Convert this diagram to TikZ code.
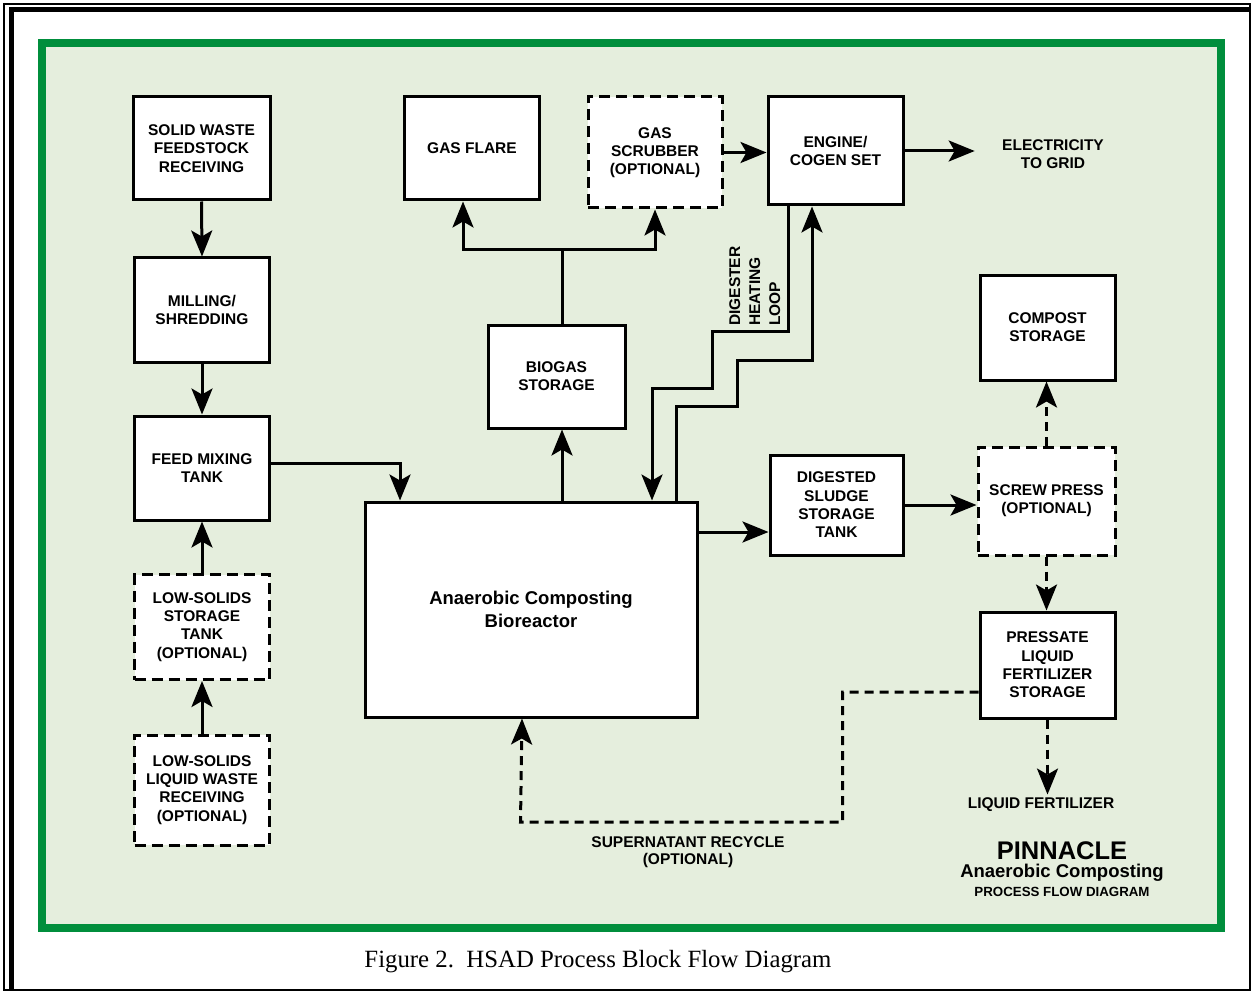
\documentclass[tikz,border=0pt]{standalone}
\usepackage{fontspec}
\setmainfont{Liberation Sans}
\newfontfamily\captionfont{Liberation Serif}
\usepackage{tikz}
\usetikzlibrary{positioning,arrows.meta}
\usepackage{xcolor}

\definecolor{framegreen}{RGB}{0,142,60}
\definecolor{panelgreen}{RGB}{229,238,221}
\newcommand{\boxfont}{\fontsize{15.5}{18.3}\selectfont\bfseries}

\tikzset{
  box/.style={draw, line width=3pt, fill=white, align=center, font=\boxfont},
  optbox/.style={box, dash pattern=on 11pt off 6pt},
  flow/.style={line width=3pt, -{Stealth[length=26pt,width=21pt,inset=6pt]}},
  optflow/.style={flow, dash pattern=on 9pt off 6pt},
  lbl/.style={align=center, font=\boxfont},
}

\begin{document}
\begin{tikzpicture}[x=1pt, y=-1pt]
                \useasboundingbox (0,0) rectangle (1252,992);

                % Page frame and panel
                \draw[line width=2pt] (4,4) rectangle (1250,990);
                \draw[line width=5pt] (11.5,990) -- (11.5,10) -- (1250,10);
                \draw[line width=8pt, framegreen, fill=panelgreen] (42,43) rectangle (1221,928);

                % Feed train
                \node[box, minimum width=137pt, minimum height=103pt] (recv) at (201.5,148.5) {SOLID WASTE\\FEEDSTOCK\\RECEIVING};
                \node[box, minimum width=135pt, minimum height=104pt] (mill) at (202,310) {MILLING/\\SHREDDING};
                \node[box, minimum width=135pt, minimum height=104pt] (mix) at (202,468) {FEED MIXING\\TANK};
                \node[optbox, minimum width=135pt, minimum height=105pt] (lstore) at (202,627) {LOW-SOLIDS\\STORAGE\\TANK\\(OPTIONAL)};
                \node[optbox, minimum width=135pt, minimum height=110pt] (lrecv) at (202,790) {LOW-SOLIDS\\LIQUID WASTE\\RECEIVING\\(OPTIONAL)};

                % Gas train
                \node[box, minimum width=135pt, minimum height=103pt] (flare) at (472,148.5) {GAS FLARE};
                \node[optbox, minimum width=134pt, minimum height=111pt] (scrub) at (655,152.5) {GAS\\SCRUBBER\\(OPTIONAL)};
                \node[box, minimum width=135pt, minimum height=108pt] (engine) at (835.5,151) {ENGINE/\\COGEN SET};
                \node[lbl] (elec) at (1053,154) {ELECTRICITY\\TO GRID};
                \node[box, minimum width=137pt, minimum height=103pt] (biogas) at (556.5,376.5) {BIOGAS\\STORAGE};

                % Digester
                \node[box, minimum width=332pt, minimum height=215pt, font=\fontsize{18.5}{23}\selectfont\bfseries] (reactor) at (531,609.5) {Anaerobic Composting\\Bioreactor};

                % Solids handling
                \node[box, minimum width=133pt, minimum height=100pt] (sludge) at (836.5,505) {DIGESTED\\SLUDGE\\STORAGE\\TANK};
                \node[box, minimum width=135pt, minimum height=105pt] (compost) at (1047.5,327.5) {COMPOST\\STORAGE};
                \node[optbox, minimum width=137pt, minimum height=108pt] (press) at (1046.5,501) {SCREW PRESS\\(OPTIONAL)};
                \node[box, minimum width=135pt, minimum height=106pt] (pressate) at (1047.5,665) {PRESSATE\\LIQUID\\FERTILIZER\\STORAGE};
                \node[lbl] (liqfert) at (1041,805) {LIQUID FERTILIZER};

                % Labels
                \node[lbl, font=\fontsize{15.5}{17}\selectfont\bfseries] (recycle) at (688,852) {SUPERNATANT RECYCLE\\(OPTIONAL)};
                \node[lbl, rotate=90, align=left, anchor=north west, inner sep=0pt, font=\fontsize{15.5}{20}\selectfont\bfseries] (heatlbl) at (729,326) {DIGESTER\\HEATING\\LOOP};
                \node[anchor=base, inner sep=0pt, font=\fontsize{25.5}{28}\selectfont\bfseries] (logo) at (1062,859) {PINNACLE};
                \node[anchor=base, inner sep=0pt, font=\fontsize{18.5}{20}\selectfont\bfseries] (logosub) at (1062,877) {Anaerobic Composting};
                \node[anchor=base, inner sep=0pt, font=\fontsize{13.3}{15}\selectfont\bfseries] (logotag) at (1062,896) {PROCESS FLOW DIAGRAM};
                \node[anchor=base, font=\captionfont\fontsize{24.8}{28}\selectfont] (caption) at (598,967) {Figure 2.\ \ HSAD Process Block Flow Diagram};

                % Feed flows
                \draw[flow] (recv.south) -- (mill.north);
                \draw[flow] (mill.south) -- (mix.north);
                \draw[flow] (lstore.north) -- (mix.south);
                \draw[flow] (lrecv.north) -- (lstore.south);
                \draw[flow] ([yshift=5pt]mix.east) -| ([xshift=-131pt]reactor.north);

                % Biogas flows
                \coordinate (split) at (562,250);
                \draw[flow] ([xshift=31pt]reactor.north) -- ([xshift=31pt]reactor.north |- biogas.south);
                \draw[line width=3pt] ([xshift=5.5pt]biogas.north) -- (split);
                \draw[flow] (split) -| ([xshift=-9pt]flare.south);
                \draw[flow] (split) -| (scrub.south);
                \draw[flow] (scrub.east) -- (scrub.east -| engine.west);
                \draw[flow] (engine.east) -- ([xshift=-24pt]elec.west |- engine.east);

                % Digester heating loop
                \draw[flow] ([xshift=-47.5pt]engine.south) -- ++(0,125) -- ++(-76,0) -- ++(0,57) -- ++(-60,0) -- ([xshift=121pt]reactor.north);
                \draw[flow] ([xshift=145pt]reactor.north) -- ++(0,-94) -- ++(61,0) -- ++(0,-46) -- ++(75,0) -- ([xshift=-23.5pt]engine.south);

                % Digestate flows
                \draw[flow] ([yshift=77.5pt]reactor.east) -- ([yshift=77.5pt]reactor.east -| sludge.west);
                \draw[flow] (sludge.east) -- (sludge.east -| press.west);
                \draw[optflow] (press.north) -- (press.north |- compost.south);
                \draw[optflow] (press.south) -- (press.south |- pressate.north);
                \draw[optflow] (pressate.south) -- (pressate.south |- liqfert.north);

                % Supernatant recycle
                \draw[optflow] ([yshift=-27pt]pressate.west) -- ++(-136,0) -- ++(0,130) -- ++(-322,0) -- ([xshift=-9pt]reactor.south);
\end{tikzpicture}
\end{document}
